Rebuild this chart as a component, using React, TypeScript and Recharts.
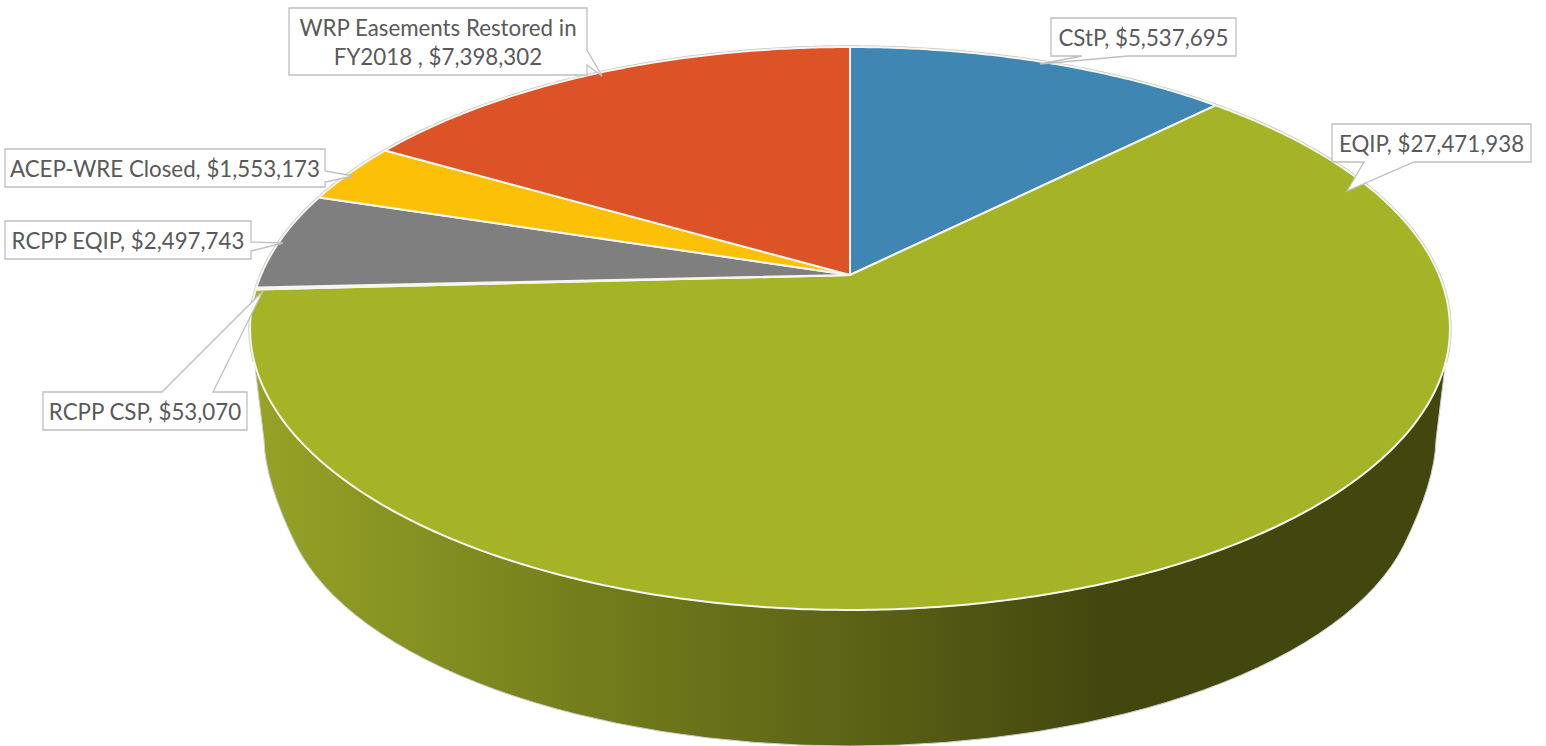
import React from "react";
import { PieChart, Pie } from "recharts";

const programNames = [
  "CStP",
  "EQIP",
  "RCPP CSP",
  "RCPP EQIP",
  "ACEP-WRE Closed",
  "WRP Easements Restored in FY2018 ",
];
const programValues = [5537695, 27471938, 53070, 2497743, 1553173, 7398302];
const programColors = ["#3F86B3", "#A4B426", "#F0D8A8", "#7F7F7F", "#FCC006", "#DC5327"];

const rows = programNames.map((name, i) => ({ name, value: programValues[i], fill: programColors[i] }));

const W = 1546;
const H = 746;
const APEX_X = 850;
const APEX_Y = 275;
// perspective of the disc
const PERSP = 0.19;
const SCALE_X = 589;
const SCALE_Y = 271.3;
// ellipse outlines of the visible disc and of the bottom of the cylinder
const TOP = { cx: 850, cy: 328.5, rx: 600, ry: 281.5 };
const BOTTOM = { cx: 850, cy: 488, rx: 568, ry: 258 };
const KNEE = { dx: 586, y: 440, ctrlDx: 585, ctrlY: 482, endDx: 554, endY: 545 };
const RIM_FRONT_Y = 363;

const project = (theta: number) => {
  const t = (theta * Math.PI) / 180;
  const u = Math.sin(t);
  const v = Math.cos(t);
  const d = 1 + PERSP * v;
  return { x: APEX_X + (SCALE_X * u) / d, y: APEX_Y - (SCALE_Y * v) / d };
};

const rimPoints = (a0: number, a1: number) => {
  const n = Math.max(2, Math.ceil((a1 - a0) * 2));
  const pts = [];
  for (let i = 0; i <= n; i++) pts.push(project(a0 + ((a1 - a0) * i) / n));
  return pts;
};

const wallPath = () => {
  const leftY = RIM_FRONT_Y;
  const dx = TOP.rx * Math.sqrt(1 - ((leftY - TOP.cy) / TOP.ry) ** 2);
  const c = BOTTOM.cx;
  return [
    `M ${TOP.cx + dx} ${leftY}`,
    `A ${TOP.rx} ${TOP.ry} 0 0 1 ${TOP.cx - dx} ${leftY}`,
    `L ${c - KNEE.dx} ${KNEE.y}`,
    `Q ${c - KNEE.ctrlDx} ${KNEE.ctrlY} ${c - KNEE.endDx} ${KNEE.endY}`,
    `A ${BOTTOM.rx} ${BOTTOM.ry} 0 0 0 ${c + KNEE.endDx} ${KNEE.endY}`,
    `Q ${c + KNEE.ctrlDx} ${KNEE.ctrlY} ${c + KNEE.dx} ${KNEE.y}`,
    "Z",
  ].join(" ");
};

const DiscSlice = (props: any) => {
  const { startAngle, endAngle, fill } = props;
  const a0 = 90 - startAngle;
  const a1 = 90 - endAngle;
  const pts = rimPoints(a0, a1);
  const body =
    `M ${APEX_X} ${APEX_Y} ` + pts.map((p) => `L ${p.x.toFixed(2)} ${p.y.toFixed(2)}`).join(" ") + " Z";
  let rim = "";
  let pen = false;
  for (const p of pts) {
    if (p.y < RIM_FRONT_Y) {
      rim += `${pen ? "L" : "M"} ${p.x.toFixed(2)} ${p.y.toFixed(2)} `;
      pen = true;
    } else pen = false;
  }
  const hasWall = a0 < 90 && a1 > 250 && a1 - a0 > 90;
  return (
    <g>
      {hasWall && (
        <g>
          <defs>
            <linearGradient id="wallShade" gradientUnits="userSpaceOnUse" x1="255" x2="1105" y1="0" y2="0">
              <stop offset="0" stopColor="#96A326" />
              <stop offset="0.4" stopColor="#727D1B" />
              <stop offset="0.7" stopColor="#5B6315" />
              <stop offset="1" stopColor="#42470E" />
            </linearGradient>
          </defs>
          <path d={wallPath()} fill="url(#wallShade)" stroke="#CFCFCF" strokeWidth={1} />
        </g>
      )}
      {rim && <path d={rim} fill="none" stroke="#C4C4C4" strokeWidth={3.4} />}
      <path d={body} fill={fill} stroke="#F6F6F0" strokeWidth={2} strokeLinejoin="round" />
    </g>
  );
};

// callout geometry per slice, in slice order: box, pointer (base, tip, base)
const callouts = [
  { box: [1051, 18, 1236, 56], ptr: [[1128, 56], [1040, 64], [1082, 56]], wrap: 0 },
  { box: [1332, 124, 1531, 162], ptr: [[1414, 162], [1347, 191], [1364, 162]], wrap: 0 },
  { box: [43, 392, 247, 430], ptr: [[213, 392], [263, 291], [162, 392]], wrap: 0 },
  { box: [5, 221, 251, 259], ptr: [[251, 242], [283, 243], [251, 251]], wrap: 0 },
  { box: [5, 149, 325, 187], ptr: [[325, 171], [353, 176], [325, 182]], wrap: 0 },
  { box: [289, 8, 587, 75], ptr: [[587, 50], [602, 76], [587, 65]], wrap: 26 },
];

const boxOutline = (box: number[], ptr: number[][]) => {
  const [x0, y0, x1, y1] = box;
  const b0 = ptr[0];
  let seq: number[][];
  if (b0[1] === y0) seq = [[x0, y0], ptr[2], ptr[1], ptr[0], [x1, y0], [x1, y1], [x0, y1]];
  else if (b0[0] === x1) seq = [[x0, y0], [x1, y0], ptr[0], ptr[1], ptr[2], [x1, y1], [x0, y1]];
  else seq = [[x0, y0], [x1, y0], [x1, y1], ptr[0], ptr[1], ptr[2], [x0, y1]];
  return "M " + seq.map((p) => p.join(" ")).join(" L ") + " Z";
};

const FONT_SIZE = 22.3;

const Callout = (props: any) => {
  const { index, name, value } = props;
  const c = callouts[index];
  const label = `${name}, $${Number(value).toLocaleString("en-US")}`;
  const lines = c.wrap ? [label.slice(0, c.wrap - 1), label.slice(c.wrap)] : [label];
  const mx = (c.box[0] + c.box[2]) / 2;
  const my = (c.box[1] + c.box[3]) / 2;
  const lead = 29;
  return (
    <g>
      <path d={boxOutline(c.box, c.ptr)} fill="#FFFFFF" stroke="#BFBFBF" strokeWidth={1.3} />
      <text textAnchor="middle" fontFamily="Lato" fontSize={FONT_SIZE} fill="#595959">
        {lines.map((t, i) => (
          <tspan key={i} x={mx} y={my + FONT_SIZE * 0.34 + 1.5 + (i - (lines.length - 1) / 2) * lead}>
            {t}
          </tspan>
        ))}
      </text>
    </g>
  );
};

export default function App() {
  return (
    <div style={{ position: "absolute", left: 0, top: 0, width: W, height: H, overflow: "hidden", background: "#fff" }}>
      <PieChart width={W} height={H} margin={{ top: 0, right: 0, bottom: 0, left: 0 }}>
        <Pie
          data={rows}
          dataKey="value"
          nameKey="name"
          cx={APEX_X}
          cy={APEX_Y}
          outerRadius={228}
          startAngle={90}
          endAngle={-270}
          isAnimationActive={false}
          shape={DiscSlice}
          label={Callout}
          labelLine={false}
        />
      </PieChart>
    </div>
  );
}
